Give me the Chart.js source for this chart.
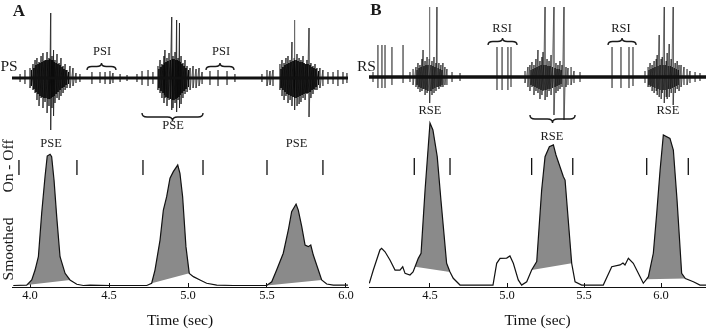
<!DOCTYPE html>
<html><head><meta charset="utf-8">
<script src="https://cdn.jsdelivr.net/npm/chart.js@4/dist/chart.umd.min.js"></script>
<style>
html,body{margin:0;padding:0;background:#fff;}
#wrap{position:relative;width:706px;height:332px;overflow:hidden;background:#fff;}
canvas{position:absolute;left:0;top:0;}
</style></head><body>
<div id="wrap"><canvas id="cA" width="706" height="332"></canvas><canvas id="cB" width="706" height="332"></canvas></div>
<script>
// ---------- Panel A data ----------
const tickA = [4.0, 4.5, 5.0, 5.5, 6.0];
// larger units (time s, positive / negative peak amplitude)
const spikeA_t = [3.937,3.968,4.000,4.019,4.032,4.044,4.057,4.070,4.082,4.095,4.108,4.120,4.131,4.139,4.149,4.158,4.171,4.184,4.196,4.209,4.222,4.234,4.253,4.272,4.291,4.316,
 4.392,4.443,4.475,4.506,4.525,4.570,4.614,4.677,
 4.709,4.747,4.778,4.810,4.823,4.835,4.848,4.854,4.867,4.880,4.897,4.905,4.918,4.928,4.937,4.946,4.956,4.968,4.981,4.994,5.013,5.032,5.051,5.070,5.089,
 5.139,5.190,5.247,5.297,
 5.468,5.500,5.519,5.538,5.582,5.595,5.608,5.620,5.633,5.646,5.658,5.671,5.677,5.690,5.703,5.715,5.728,5.741,5.753,5.766,5.778,5.791,5.804,5.816,5.835,5.854,5.886,5.918,5.949,5.981,6.006];
const spikeA_up = [0.4,0.8,1.0,1.4,1.8,2.0,1.6,2.2,2.5,1.8,2.6,2.0,6.5,2.2,2.8,1.8,2.4,1.5,2.0,1.2,1.4,0.8,1.2,1.0,0.5,0.4,
 0.6,0.6,0.6,0.7,0.5,0.4,0.3,0.4,
 0.7,0.8,0.6,1.2,1.8,1.4,2.2,2.8,2.0,2.5,6.1,2.2,2.6,5.8,2.0,5.5,2.2,1.5,1.8,1.2,1.0,1.2,0.9,1.0,0.6,
 0.7,0.8,0.7,0.4,
 0.4,0.8,0.7,0.8,1.4,1.8,1.5,2.0,2.2,1.8,3.6,2.0,5.8,2.4,2.0,1.8,2.2,1.4,1.8,5.0,1.5,1.2,1.4,1.0,1.0,0.8,0.6,0.6,0.8,0.6,0.5];
const spikeA_dn = [0.4,0.6,1.0,1.2,1.5,2.2,2.8,2.0,3.0,2.4,3.5,2.8,5.2,3.0,3.8,2.5,2.0,2.2,1.8,1.5,1.2,1.0,1.0,0.8,0.5,0.4,
 0.6,0.5,0.6,0.6,0.5,0.4,0.3,0.4,
 0.7,0.8,0.6,1.2,1.5,2.0,2.5,2.0,2.8,2.2,3.2,3.0,2.5,3.4,2.2,3.0,2.6,2.0,1.6,1.4,1.2,1.0,1.0,0.8,0.6,
 0.7,0.8,0.7,0.4,
 0.4,0.8,0.7,0.8,1.2,1.8,2.2,1.8,2.5,2.2,2.8,3.0,3.2,2.8,2.6,2.4,2.0,2.2,1.6,3.9,2.0,1.6,1.2,1.2,1.0,0.8,0.6,0.6,0.8,0.6,0.5];
// dense small units inside the bursts
const coreA_t = [4.009,4.025,4.038,4.051,4.063,4.076,4.089,4.101,4.114,4.125,4.135,4.144,4.153,4.165,4.177,4.190,4.203,4.215,4.228,4.244,
 4.816,4.829,4.842,4.851,4.861,4.873,4.888,4.901,4.911,4.923,4.932,4.942,4.951,4.962,4.975,4.987,5.003,
 5.589,5.601,5.614,5.627,5.639,5.652,5.665,5.674,5.684,5.696,5.709,5.722,5.734,5.747,5.759,5.772,5.785,5.797,5.810,5.826];
const coreA_up = [0.8,1.0,1.3,1.4,1.5,1.6,1.7,1.8,1.8,1.9,1.8,1.8,1.6,1.5,1.4,1.3,1.1,0.9,0.8,0.6,
 0.9,1.1,1.3,1.5,1.6,1.7,1.8,1.9,1.9,1.8,1.8,1.7,1.6,1.4,1.2,1.0,0.8,
 0.9,1.1,1.3,1.4,1.5,1.6,1.7,1.8,1.8,1.7,1.6,1.6,1.5,1.4,1.4,1.3,1.1,1.0,0.9,0.7];
const coreA_dn = [0.8,1.1,1.4,1.6,1.8,1.9,2.0,2.0,2.1,2.1,2.0,1.9,1.8,1.6,1.4,1.2,1.0,0.9,0.7,0.6,
 1.0,1.3,1.5,1.7,1.9,2.0,2.1,2.2,2.2,2.1,2.0,1.9,1.7,1.5,1.3,1.1,0.9,
 1.0,1.2,1.4,1.6,1.7,1.8,1.9,2.0,2.0,1.9,1.8,1.7,1.6,1.5,1.5,1.4,1.2,1.1,0.9,0.7];
const smoothA_t = [3.894,3.979,4.011,4.032,4.053,4.074,4.095,4.109,4.127,4.137,4.152,4.169,4.190,4.222,4.253,4.296,4.337,4.380,4.443,4.506,4.654,4.739,4.770,4.791,4.823,4.844,4.865,4.886,4.907,4.935,4.949,4.966,4.987,5.008,5.034,5.076,5.118,5.182,5.287,5.498,5.530,5.561,5.603,5.635,5.656,5.684,5.698,5.720,5.741,5.761,5.777,5.793,5.825,5.846,5.878,5.920,6.015];
const smoothA_v = [0,0.3,3.7,10.3,19.2,48.3,72.5,86.3,87.5,85.9,70.3,45.9,19.2,8.1,3.7,0.8,0,0.3,0.1,0,0,0,1.5,10.3,30.3,50.3,59.2,71.5,75.9,80.3,74.8,59.2,25.9,8.1,5.9,3.7,1.5,0.3,0,0,2.5,10.3,21.5,37.0,49.2,54.3,50.3,39.2,27.0,25.9,27.0,20.3,10.3,3.7,1.0,0.3,0.3];
const burstA_idx = [[1,14],[22,33],[39,53]];
const onOffA_t = [3.930,4.297,4.715,5.095,5.500,5.854];
const onOffA_lo = 73.7, onOffA_hi = 83.7;

// ---------- Panel B data ----------
const tickB = [4.5, 5.0, 5.5, 6.0];
const spikeB_t = [4.130,4.162,4.188,4.208,4.253,4.325,4.370,4.390,4.409,4.422,4.435,4.448,4.455,4.468,4.481,4.494,4.500,4.513,4.526,4.539,4.545,4.558,4.571,4.584,4.597,4.610,4.643,4.695,
 4.935,4.968,5.006,5.026,
 5.117,5.136,5.149,5.162,5.175,5.188,5.201,5.214,5.227,5.234,5.247,5.260,5.273,5.286,5.305,5.318,5.331,5.344,5.357,5.370,5.383,5.396,5.416,5.435,5.474,
 5.682,5.740,5.792,5.818,
 5.896,5.916,5.929,5.942,5.955,5.969,5.975,5.988,6.001,6.008,6.021,6.034,6.040,6.053,6.066,6.079,6.092,6.105,6.117,6.130,6.149,6.169,6.188,6.221,6.253];
const spikeB_up = [0.5,3.2,3.2,3.2,3.0,3.2,0.5,0.8,1.0,1.4,1.2,1.8,2.7,1.6,2.0,1.8,7.0,1.6,2.0,1.4,7.0,1.4,1.2,1.4,1.0,0.8,0.5,0.4,
 3.0,3.0,3.0,3.0,
 0.6,1.0,1.2,1.5,1.2,1.8,2.7,1.6,2.0,2.5,7.0,1.8,1.6,2.2,7.0,1.4,1.2,1.6,1.2,7.0,1.0,0.9,1.0,0.6,0.5,
 3.0,3.0,3.0,3.0,
 0.6,1.0,1.4,1.2,1.6,1.8,2.2,4.2,1.8,2.0,7.0,1.6,2.4,3.3,1.8,7.0,1.4,1.6,1.2,1.2,1.0,0.8,0.6,0.5,0.4];
const spikeB_dn = [0.5,1.1,1.1,1.1,0.8,0.6,0.5,0.8,1.0,1.2,1.5,1.4,1.2,1.8,1.6,2.4,2.6,1.8,1.6,1.4,1.0,1.2,1.0,1.0,0.8,0.8,0.5,0.4,
 1.3,1.3,1.3,1.0,
 0.6,1.0,1.4,1.0,1.8,1.4,1.6,2.2,1.8,1.4,2.3,2.0,1.4,1.8,3.8,1.6,1.4,1.2,1.0,4.3,1.0,0.8,0.8,0.6,0.5,
 1.1,1.1,1.1,0.9,
 0.6,1.0,1.0,1.4,1.6,1.4,1.8,2.0,2.2,1.6,2.6,2.0,2.2,2.0,1.6,2.8,1.6,1.2,1.4,1.0,0.8,0.8,0.6,0.5,0.4];
const coreB_t = [4.416,4.429,4.442,4.461,4.474,4.487,4.506,4.519,4.532,4.552,4.565,4.578,
 5.156,5.169,5.182,5.195,5.208,5.221,5.240,5.253,5.266,5.279,5.295,5.312,5.325,5.338,5.351,
 5.922,5.935,5.948,5.961,5.981,5.994,6.014,6.027,6.047,6.060,6.073,6.086,6.099,6.112];
const coreB_up = [0.7,0.9,1.0,1.1,1.2,1.2,1.2,1.1,1.0,0.9,0.8,0.7,
 0.7,0.8,0.9,1.0,1.1,1.2,1.2,1.2,1.1,1.1,1.0,0.9,0.8,0.8,0.7,
 0.7,0.8,0.9,1.0,1.1,1.2,1.2,1.2,1.1,1.1,1.0,0.9,0.8,0.7];
const coreB_dn = [0.8,1.0,1.1,1.2,1.3,1.4,1.4,1.2,1.1,1.0,0.9,0.8,
 0.8,0.9,1.0,1.1,1.2,1.3,1.3,1.3,1.2,1.2,1.1,1.0,0.9,0.8,0.7,
 0.8,0.9,1.0,1.1,1.2,1.3,1.3,1.3,1.2,1.2,1.1,1.0,0.9,0.8];
const smoothB_t = [4.106,4.132,4.175,4.186,4.208,4.240,4.273,4.305,4.323,4.338,4.370,4.390,4.403,4.424,4.442,4.468,4.500,4.519,4.547,4.571,4.608,4.630,4.651,4.695,4.909,4.933,4.955,4.998,5.019,5.041,5.073,5.095,5.128,5.160,5.193,5.225,5.247,5.275,5.301,5.318,5.366,5.377,5.420,5.442,5.485,5.625,5.680,5.734,5.753,5.766,5.788,5.820,5.864,5.885,5.905,5.918,5.950,5.972,5.994,6.015,6.058,6.080,6.104,6.134,6.158,6.210,6.253,6.292];
const smoothB_v = [1.5,10.3,23.7,24.8,22.5,17.0,10.3,10.3,12.5,8.1,7.0,9.0,12.5,18.1,21.5,63.7,108.3,103.7,85.9,57.0,14.8,9.0,4.8,0.3,0.3,14.8,18.1,18.3,19.7,14.8,3.7,0.3,2.5,10.3,15.9,63.7,85.9,92.5,93.7,87.0,72.5,70.3,14.8,2.5,0.3,0.3,12.5,13.7,15.0,13.7,18.1,14.8,5.9,1.5,4.1,5.9,21.5,48.1,77.0,100.3,98.1,90.3,57.0,8.1,4.6,2.5,0.3,0.3];
const burstB_idx = [[12,21],[33,42],[54,64]];
const onOffB_t = [4.398,4.630,5.160,5.427,5.907,6.177];
const onOffB_lo = 73.7, onOffB_hi = 85.0;

// ---------- helpers ----------
const SERIF = '"Liberation Serif", "Times New Roman", serif';
function xy(t, v){ return t.map((x,i)=>({x:x, y:v[i]})); }
// spikes that are close together are joined into one zig-zag trace; isolated ones stand alone
function spikes(t, up, dn, gap){
  const d=[];
  t.forEach((x,i)=>{
    if(i>0 && x - t[i-1] > gap) d.push({x:x, y:null});
    d.push({x:x,y:up[i]},{x:x,y:-dn[i]});
  });
  return d;
}
function marks(t, lo, hi){ const d=[]; t.forEach(x=>{ d.push({x:x,y:lo},{x:x,y:hi},{x:x,y:null}); }); return d; }

function drawBrace(ctx, x1, x2, yc, h, dir){
  const xm=(x1+x2)/2, r=Math.min(5,(x2-x1)/6);
  const yEnd = yc - dir*h/2, yTip = yc + dir*h/2;
  ctx.beginPath();
  ctx.moveTo(x1, yEnd);
  ctx.quadraticCurveTo(x1, yc, x1+r, yc);
  ctx.lineTo(xm-r, yc);
  ctx.quadraticCurveTo(xm, yc, xm, yTip);
  ctx.quadraticCurveTo(xm, yc, xm+r, yc);
  ctx.lineTo(x2-r, yc);
  ctx.quadraticCurveTo(x2, yc, x2, yEnd);
  ctx.stroke();
}

function makeAnnot(a){
  return {
    id:'annot',
    afterDraw(chart){
      const ctx=chart.ctx, X=chart.scales.x, T=chart.scales.yT, S=chart.scales.yS;
      ctx.save();
      ctx.fillStyle='#1a1a1a'; ctx.strokeStyle='#1a1a1a';
      ctx.textAlign='center'; ctx.textBaseline='middle';
      ctx.font='bold 17px '+SERIF;
      ctx.fillText(a.letter.text, a.letter.x, a.letter.y);
      ctx.font='15.5px '+SERIF; ctx.textAlign='left';
      ctx.fillText(a.side.text, a.side.x, a.side.y);
      ctx.textAlign='center'; ctx.font='12.5px '+SERIF;
      a.traceLabels.forEach(l=>ctx.fillText(l.text, X.getPixelForValue(l.t), T.getPixelForValue(l.v)));
      a.smoothLabels.forEach(l=>ctx.fillText(l.text, X.getPixelForValue(l.t), S.getPixelForValue(l.v)));
      ctx.lineWidth=1.4;
      a.braces.forEach(b=>drawBrace(ctx, X.getPixelForValue(b.t1), X.getPixelForValue(b.t2), T.getPixelForValue(b.v), b.h, b.dir));
      ctx.font='15.5px '+SERIF;
      a.yTitles.forEach(y=>{ ctx.save(); ctx.translate(y.x,y.y); ctx.rotate(-Math.PI/2); ctx.fillText(y.text,0,0); ctx.restore(); });
      ctx.restore();
    }
  };
}

function makePanel(id, P){
  const ds = [];
  ds.push({data: xy(P.st, P.sv), yAxisID:'yS', borderColor:'#111', borderWidth:1.2, pointRadius:0, fill:false});
  ds.push({data: marks(P.oo, P.lo, P.hi), yAxisID:'yS', borderColor:'#111', borderWidth:1.3, pointRadius:0, fill:false, spanGaps:false});
  P.bursts.forEach(r=>{
    ds.push({data: xy(P.st.slice(r[0], r[1]+1), P.sv.slice(r[0], r[1]+1)), yAxisID:'yS', borderWidth:0, borderColor:'rgba(0,0,0,0)', backgroundColor:'#8a8a8a', pointRadius:0, fill:'shape'});
  });
  ds.push({data: [{x:P.xr[0], y:0},{x:P.xr[1], y:0}], yAxisID:'yT', borderColor:'#111', borderWidth:P.bw, pointRadius:0, fill:false});
  ds.push({data: spikes(P.ct, P.cu, P.cd, 0.0192), yAxisID:'yT', borderColor:P.cc, borderWidth:1, pointRadius:0, fill:false, spanGaps:false});
  ds.push({data: spikes(P.kt, P.ku, P.kd, 0.0192), yAxisID:'yT', borderColor:P.sc, borderWidth:0.9, pointRadius:0, fill:false, spanGaps:false});
  new Chart(document.getElementById(id), {
    type:'line',
    data:{datasets: ds},
    options:{
      responsive:false, animation:false, devicePixelRatio:1, events:[],
      layout:{padding:P.pad},
      plugins:{legend:{display:false}, tooltip:{enabled:false}},
      scales:{
        x:{type:'linear', position:'bottom', min:P.xr[0], max:P.xr[1],
           afterBuildTicks: s=>{ s.ticks = P.ticks.map(v=>({value:v})); },
           afterFit: s=>{ s.height = 45; },
           grid:{drawOnChartArea:false, drawTicks:true, tickLength:-4, color:'#111', lineWidth:1},
           border:{display:true, color:'#111', width:1},
           ticks:{padding:5, color:'#111', autoSkip:false, maxRotation:0, font:{family:SERIF, size:12.5}, callback: v=>Number(v).toFixed(1)},
           title:{display:true, text:'Time (sec)', color:'#111', font:{family:SERIF, size:15.5}, padding:{top:0, bottom:1.4}}
        },
        yT:{type:'linear', display:false, min:P.tr[0], max:P.tr[1]},
        yS:{type:'linear', display:false, min:-1.0, max:190.33}
      }
    },
    plugins:[makeAnnot(P.annot)]
  });
}

makePanel('cA', {
  st:smoothA_t, sv:smoothA_v, oo:onOffA_t, lo:onOffA_lo, hi:onOffA_hi, bursts:burstA_idx,
  kt:spikeA_t, ku:spikeA_up, kd:spikeA_dn, ct:coreA_t, cu:coreA_up, cd:coreA_dn,
  ticks:tickA, xr:[3.886, 6.0127], tr:[-20.9, 7.8], bw:3,
  sc:'rgba(15,15,15,0.5)', cc:'rgba(10,10,10,0.8)',
  pad:{left:12, right:358, top:0, bottom:0},
  annot:{
    letter:{text:'A', x:19, y:12},
    side:{text:'PS', x:0.5, y:67},
    traceLabels:[{text:'PSI', t:4.456, v:2.6},{text:'PSI', t:5.209, v:2.6},{text:'PSE', t:4.905, v:-4.8}],
    smoothLabels:[{text:'PSE', t:4.133, v:94.3},{text:'PSE', t:5.687, v:94.3}],
    braces:[{t1:4.361,t2:4.544,v:1.15,h:7,dir:-1},{t1:5.114,t2:5.291,v:1.15,h:7,dir:-1},{t1:4.709,t2:5.095,v:-3.9,h:8,dir:1}],
    yTitles:[{text:'On - Off', x:9, y:166},{text:'Smoothed', x:9, y:249}]
  }
});
makePanel('cB', {
  st:smoothB_t, sv:smoothB_v, oo:onOffB_t, lo:onOffB_lo, hi:onOffB_hi, bursts:burstB_idx,
  kt:spikeB_t, ku:spikeB_up, kd:spikeB_dn, ct:coreB_t, cu:coreB_up, cd:coreB_dn,
  ticks:tickB, xr:[4.104, 6.292], tr:[-21.0, 7.7], bw:3.5,
  sc:'rgba(15,15,15,0.45)', cc:'rgba(10,10,10,0.45)',
  pad:{left:369, right:0, top:0, bottom:0},
  annot:{
    letter:{text:'B', x:376, y:11},
    side:{text:'RS', x:357, y:67},
    traceLabels:[{text:'RSI', t:4.968, v:4.8},{text:'RSI', t:5.740, v:4.8},{text:'RSE', t:4.5, v:-3.4},{text:'RSE', t:5.292, v:-6.0},{text:'RSE', t:6.045, v:-3.4}],
    smoothLabels:[],
    braces:[{t1:4.877,t2:5.065,v:3.55,h:7,dir:-1},{t1:5.656,t2:5.838,v:3.55,h:7,dir:-1},{t1:5.149,t2:5.442,v:-4.2,h:8,dir:1}],
    yTitles:[]
  }
});
</script>
</body></html>
